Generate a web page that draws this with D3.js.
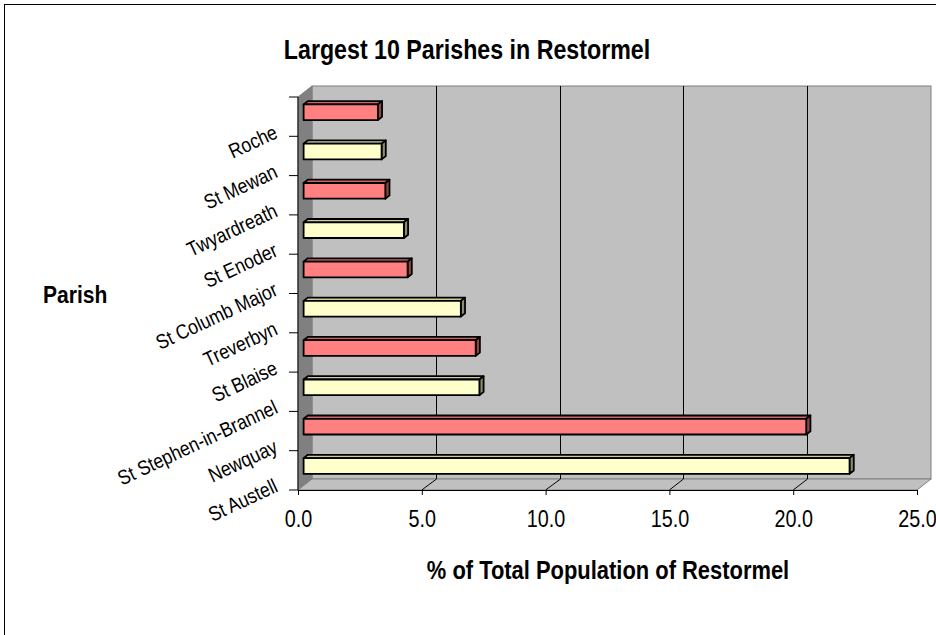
<!DOCTYPE html>
<html lang="en">
<head>
    <meta charset="UTF-8">
    <title>Largest 10 Parishes in Restormel</title>
    <script src="https://d3js.org/d3.v7.min.js"></script>
    <style>
        body {
            margin: 0;
            padding: 0;
            background-color: #fff;
            font-family: "Liberation Sans", Arial, sans-serif;
        }
        svg text { fill: #000; }
        .bold { font-weight: bold; }
    </style>
</head>
<body>
    <svg id="chart" width="936" height="635"></svg>
    <script>
        // chart data, top bar first
        const parishes = ["Roche", "St Mewan", "Twyardreath", "St Enoder", "St Columb Major",
            "Treverbyn", "St Blaise", "St Stephen-in-Brannel", "Newquay", "St Austell"];
        const shares = [3.0, 3.15, 3.3, 4.05, 4.2, 6.35, 6.95, 7.1, 20.3, 22.05];
        const valueTicks = [0, 5, 10, 15, 20, 25];
        const barColors = ["#ff8080", "#ffffcc"];

        const svg = d3.select("#chart");
        const squeeze = 0.86; // text in the original is a little narrow

        // chart frame
        svg.append("rect")
            .attr("x", 4.5).attr("y", 4.5)
            .attr("width", 960).attr("height", 660)
            .attr("fill", "#fff").attr("stroke", "#000");

        // front plane scales
        const x = d3.scaleLinear().domain([0, 25]).range([298, 917]);
        const y = d3.scaleBand().domain(parishes).range([97, 490]);
        const depth = { dx: 14, dy: -11 }; // wall depth offset

        const plotTop = y.range()[0], plotBottom = y.range()[1];
        const plotLeft = x(0), plotRight = x(25);

        // walls
        const walls = svg.append("g");
        walls.append("rect") // back wall
            .attr("x", plotLeft + depth.dx).attr("y", plotTop + depth.dy)
            .attr("width", plotRight - plotLeft).attr("height", plotBottom - plotTop)
            .attr("fill", "#c0c0c0").attr("stroke", "#808080");
        walls.append("polygon") // side wall
            .attr("points", [[plotLeft, plotTop], [plotLeft + depth.dx, plotTop + depth.dy],
                [plotLeft + depth.dx, plotBottom + depth.dy], [plotLeft, plotBottom]].join(" "))
            .attr("fill", "#808080").attr("stroke", "#808080");
        walls.append("polygon") // floor
            .attr("points", [[plotLeft, plotBottom], [plotLeft + depth.dx, plotBottom + depth.dy],
                [plotRight + depth.dx, plotBottom + depth.dy], [plotRight, plotBottom]].join(" "))
            .attr("fill", "#c0c0c0").attr("stroke", "#808080");

        // gridlines on back wall and floor
        const grid = svg.append("g").attr("fill", "none").attr("stroke", "#000").attr("stroke-width", 1);
        valueTicks.filter(v => v > 0 && v < 25).forEach(v => {
            const gx = Math.round(x(v) + depth.dx) + 0.5;
            grid.append("polyline")
                .attr("points", [[gx, plotTop + depth.dy], [gx, plotBottom + depth.dy], [x(v), plotBottom]].join(" "));
        });

        // bars: front face sits a little behind the front plane
        const f0 = 0.4, f1 = 0.3;
        const barH = y.bandwidth() * 0.4;
        const bars = svg.append("g").attr("stroke", "#000").attr("stroke-width", 1.8)
            .attr("stroke-linejoin", "round");
        const shade = (c, k) => {
            const col = d3.rgb(c);
            return d3.rgb(col.r * k, col.g * k, col.b * k).formatHex();
        };
        parishes.forEach((p, i) => {
            const color = barColors[i % 2];
            const ox = depth.dx * f0, oy = depth.dy * f0;
            const bx = depth.dx * f1, by = depth.dy * f1;
            const x0 = x(0) + ox, x1 = x(shares[i]) + ox;
            const y0 = y(p) + (y.bandwidth() - barH) / 2 + oy, y1 = y0 + barH;
            bars.append("polygon") // top face
                .attr("points", [[x0, y0], [x0 + bx, y0 + by], [x1 + bx, y0 + by], [x1, y0]].join(" "))
                .attr("fill", shade(color, 0.8));
            bars.append("polygon") // end face
                .attr("points", [[x1, y0], [x1 + bx, y0 + by], [x1 + bx, y1 + by], [x1, y1]].join(" "))
                .attr("fill", shade(color, 0.55));
            bars.append("rect") // front face
                .attr("x", x0).attr("y", y0)
                .attr("width", x1 - x0).attr("height", barH)
                .attr("fill", color);
        });

        // value axis
        const xAxis = svg.append("g").attr("transform", `translate(0,${plotBottom})`)
            .call(d3.axisBottom(x).tickValues(valueTicks).tickFormat(d3.format(".1f"))
                .tickSize(5).tickSizeOuter(0).tickPadding(14));
        xAxis.select(".domain").attr("stroke", "#000");
        xAxis.selectAll(".tick line").attr("stroke", "#000");
        xAxis.selectAll("text")
            .attr("font-size", 23)
            .attr("font-family", "Liberation Sans, Arial, sans-serif")
            .attr("y", 0).attr("dy", null)
            .attr("transform", `translate(0,37) scale(${squeeze},1)`);

        // category axis
        const yAxis = svg.append("g");
        yAxis.append("line")
            .attr("x1", plotLeft).attr("x2", plotLeft).attr("y1", plotTop).attr("y2", plotBottom)
            .attr("stroke", "#000");
        const bounds = parishes.map(p => y(p)).concat([plotBottom]);
        yAxis.selectAll(".ctick").data(bounds).join("line")
            .attr("x1", plotLeft - 9).attr("x2", plotLeft)
            .attr("y1", d => d).attr("y2", d => d)
            .attr("stroke", "#000");
        yAxis.selectAll(".clabel").data(parishes).join("text")
            .attr("text-anchor", "end")
            .attr("font-size", 20.5)
            .attr("transform", d => `translate(279,${y(d) + y.bandwidth() + 1}) rotate(-25) scale(${squeeze},1)`)
            .text(d => d);

        // titles
        const addTitle = (text, tx, ty, size, anchor) =>
            svg.append("text").attr("class", "bold")
                .attr("text-anchor", anchor)
                .attr("font-size", size)
                .attr("transform", `translate(${tx},${ty}) scale(${squeeze},1)`)
                .text(text);
        addTitle("Largest 10 Parishes in Restormel", 467, 59, 27, "middle");
        addTitle("% of Total Population of Restormel", 608, 579, 25.5, "middle");
        addTitle("Parish", 43, 303, 24.5, "start");
    </script>
</body>
</html>
